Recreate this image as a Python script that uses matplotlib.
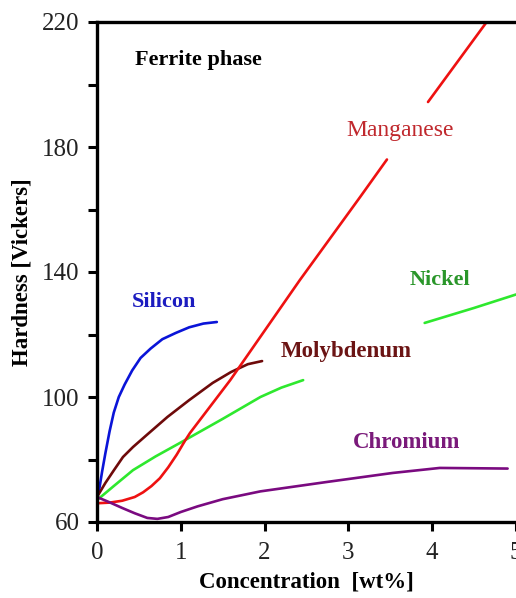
import numpy as np
import matplotlib
matplotlib.use("Agg")
import matplotlib.pyplot as plt

plt.rcParams['font.family'] = ['Liberation Serif', 'DejaVu Serif']

# ---- data ----
si_x = [0, 0.03, 0.06, 0.1, 0.15, 0.2, 0.26, 0.33, 0.42, 0.52, 0.64, 0.78, 0.94, 1.1, 1.27, 1.43]
si_y = [68, 71, 76, 82, 89, 95, 100, 104, 108.5, 112.5, 115.5, 118.5, 120.5, 122.3, 123.5, 124]

mo_x = [0, 0.1, 0.2, 0.31, 0.43, 0.6, 0.84, 1.1, 1.38, 1.6, 1.8, 1.97]
mo_y = [68, 72.5, 76.5, 80.8, 84, 88, 93.6, 99, 104.5, 108, 110.5, 111.5]

ni_x = [0, 0.2, 0.43, 0.7, 0.99, 1.5, 1.95, 2.2, 2.46, np.nan, 3.91, 4.5, 5.0]
ni_y = [67, 71.5, 76.6, 81, 85.3, 93, 100, 103, 105.4, np.nan, 123.7, 128.5, 132.8]

mn_x = [0, 0.15, 0.3, 0.45, 0.55, 0.65, 0.75, 0.85, 0.95, 1.05, 1.11, 1.59, 2.42, 3.14, 3.46,
        np.nan, 3.95, 4.65]
mn_y = [66, 66.2, 66.8, 68, 69.5, 71.5, 74, 77.5, 81.5, 86, 88.5, 105.4, 137.4, 164, 176,
        np.nan, 194.4, 220]

cr_x = [0, 0.15, 0.3, 0.45, 0.6, 0.72, 0.85, 1.0, 1.2, 1.5, 1.95, 2.74, 3.53, 4.09, 4.5, 4.9]
cr_y = [68, 66.3, 64.5, 62.8, 61.3, 61, 61.6, 63.2, 65, 67.3, 69.8, 72.8, 75.7, 77.3, 77.2, 77.1]

x_ticks = [0, 1, 2, 3, 4, 5]
y_major = [60, 100, 140, 180, 220]
y_minor = [80, 120, 160, 200]

fig = plt.figure(figsize=(5.16, 5.98), dpi=100)
ax = fig.add_axes([97/516, 76/598, 1 - 97/516, 500/598])

lw = 1.9
kw = dict(lw=lw, solid_capstyle='round', solid_joinstyle='round')
ax.plot(si_x, si_y, color='#0a14d8', **kw)
ax.plot(mo_x, mo_y, color='#6e0a0a', **kw)
ax.plot(ni_x, ni_y, color='#2ee82e', **kw)
ax.plot(mn_x, mn_y, color='#ee1111', **kw)
ax.plot(cr_x, cr_y, color='#7a0a80', **kw)

ax.set_xlim(0, 5)
ax.set_ylim(60, 220)

ax.set_xticks(x_ticks)
ax.set_xticklabels([str(v) for v in x_ticks])
ax.set_yticks(y_major)
ax.set_yticklabels([str(v) for v in y_major])
ax.set_yticks(y_minor, minor=True)

ax.tick_params(axis='both', which='both', direction='out', length=6.5, width=2.2,
               labelsize=18, color='black')
ax.tick_params(axis='x', pad=8)
ax.tick_params(axis='y', pad=6)
for lab in ax.get_xticklabels() + ax.get_yticklabels():
    lab.set_color('#222222')

for s in ['left', 'top', 'bottom']:
    ax.spines[s].set_linewidth(2.4)
ax.spines['right'].set_visible(False)

ax.set_xlabel('Concentration  [wt%]', fontsize=16.5, fontweight='bold', labelpad=5)
ax.set_ylabel('Hardness [Vickers]', fontsize=16.5, fontweight='bold', labelpad=7)

ax.text(0.45, 207.8, 'Ferrite phase', fontsize=16, fontweight='bold', color='black',
        ha='left', va='center')
ax.text(0.80, 130.5, 'Silicon', fontsize=16, fontweight='bold', color='#1c1cc0',
        ha='center', va='center')
ax.text(3.62, 185.4, 'Manganese', fontsize=17, color='#c0282d',
        ha='center', va='center')
ax.text(4.09, 137.4, 'Nickel', fontsize=16, fontweight='bold', color='#2a962a',
        ha='center', va='center')
ax.text(2.97, 114.4, 'Molybdenum', fontsize=16.5, fontweight='bold', color='#6b1414',
        ha='center', va='center')
ax.text(3.70, 85.6, 'Chromium', fontsize=16.5, fontweight='bold', color='#7a1a7a',
        ha='center', va='center')

fig.savefig('out.png', dpi=100)
